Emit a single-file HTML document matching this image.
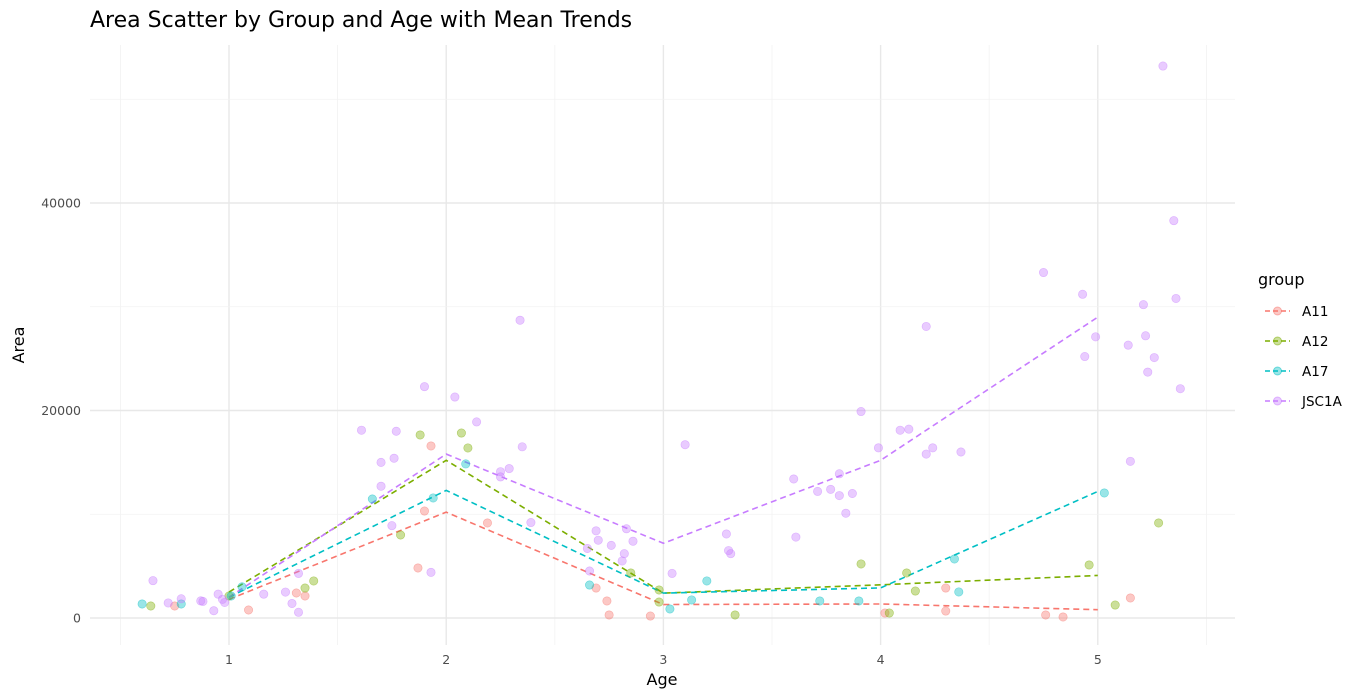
<!DOCTYPE html>
<html><head><meta charset="utf-8">
<style>
html,body{margin:0;padding:0;background:#fff;}
svg{display:block;font-family:"DejaVu Sans","Liberation Sans",sans-serif;}
</style></head>
<body>
<svg id="chart" width="1368" height="700">
<text x="90" y="27" font-size="22" fill="#000">Area Scatter by Group and Age with Mean Trends</text>
<g id="grid"></g>
<g id="lines"></g>
<g id="points"></g>
<g id="axes"></g>
<text x="662" y="685" font-size="16" text-anchor="middle" fill="#000">Age</text>
<text transform="translate(24,345) rotate(-90)" font-size="16" text-anchor="middle" fill="#000">Area</text>
<g id="legend">
<text x="1258" y="285" font-size="16" fill="#000">group</text>
</g>
</svg>
<script>
const groups = ["A11","A12","A17","JSC1A"];
const colors = ["#F8766D","#7CAE00","#00BFC4","#C77CFF"];
const xTicks = [1,2,3,4,5];
const yTicks = [0,20000,40000];
const meanAges = [1,2,3,4,5];
const meanA11 = [1800,10200,1300,1350,800];
const meanA12 = [2500,15200,2400,3200,4100];
const meanA17 = [2000,12300,2400,2900,12200];
const meanJSC1A = [2000,15800,7200,15200,29000];
const ageA11 = [0.75,1.09,1.31,1.35,1.87,1.90,1.93,2.19,2.69,2.74,2.75,2.94,4.02,4.30,4.30,4.76,4.84,5.15];
const areaA11 = [1157,771,2410,2120,4820,10310,16580,9160,2890,1640,290,190,480,2890,670,290,100,1930];
const ageA12 = [0.64,1.0,1.35,1.39,1.79,1.88,2.07,2.10,2.85,2.98,2.98,3.33,3.91,4.12,4.16,4.04,4.96,5.08,5.28];
const areaA12 = [1157,2120,2890,3570,8000,17640,17830,16390,4340,2700,1540,290,5210,4340,2600,480,5110,1250,9160];
const ageA17 = [0.60,0.78,1.06,1.01,1.66,1.94,2.09,2.66,3.03,3.13,3.20,3.72,3.90,4.34,4.36,5.03];
const areaA17 = [1350,1350,3000,2120,11470,11570,14850,3180,870,1740,3570,1640,1640,5690,2510,12050];
const ageJSC1A = [0.65,0.72,0.78,0.87,0.88,0.93,0.95,0.97,0.98,1.16,1.26,1.29,1.32,1.32,1.61,1.70,1.70,1.76,1.77,1.75,1.90,1.93,2.04,2.14,2.25,2.25,2.29,2.34,2.35,2.39,2.65,2.69,2.70,2.76,2.66,2.81,2.82,2.83,2.86,3.04,3.10,3.29,3.30,3.31,3.60,3.61,3.71,3.77,3.81,3.81,3.84,3.87,3.91,3.99,4.09,4.13,4.21,4.21,4.24,4.37,4.75,4.93,4.94,4.99,5.14,5.15,5.21,5.22,5.23,5.26,5.30,5.35,5.36,5.38];
const areaJSC1A = [3600,1450,1850,1650,1600,700,2300,1800,1500,2300,2500,1400,4300,550,18100,15000,12700,15400,18000,8900,22300,4400,21300,18900,14100,13600,14400,28700,16500,9200,6700,8400,7500,7000,4530,5500,6200,8600,7400,4300,16700,8100,6500,6200,13400,7800,12200,12400,11800,13900,10100,12000,19900,16400,18100,18200,15800,28100,16400,16000,33300,31200,25200,27100,26300,15100,30200,27200,23700,25100,53200,38300,30800,22100];

const NS="http://www.w3.org/2000/svg";
const L=90,R=1235,T=45,B=645;
const xs=v=>229+(v-1)*217.2;
const ys=v=>618-v*0.010375;
function mk(tag,attrs,parent){const e=document.createElementNS(NS,tag);for(const k in attrs)e.setAttribute(k,attrs[k]);parent.appendChild(e);return e;}
const grid=document.getElementById('grid');
for(let v=0.5;v<=5.51;v+=0.5){
  const major=Math.abs(v-Math.round(v))<0.01;
  const g=mk('line',{x1:xs(v),x2:xs(v),y1:T,y2:B,stroke:major?"#e8e8e8":"#f2f2f2","stroke-width":major?1.4:0.8},grid);
  
  
}
for(let v=0;v<=50000;v+=10000){
  const major=v%20000===0;
  const g=mk('line',{x1:L,x2:R,y1:ys(v),y2:ys(v),stroke:major?"#e8e8e8":"#f2f2f2","stroke-width":major?1.4:0.8},grid);
  
  
}
const axes=document.getElementById('axes');
xTicks.forEach(t=>{
  const e=mk('text',{x:xs(t),y:664,"font-size":12.5,fill:"#4d4d4d","text-anchor":"middle"},axes);
  e.textContent=t;
  
  
});
yTicks.forEach(t=>{
  const e=mk('text',{x:81,y:ys(t)+4.5,"font-size":12.5,fill:"#4d4d4d","text-anchor":"end"},axes);
  e.textContent=t;
  
  
});
const means=[meanA11,meanA12,meanA17,meanJSC1A];
const ages=[ageA11,ageA12,ageA17,ageJSC1A];
const areas=[areaA11,areaA12,areaA17,areaJSC1A];
const lines=document.getElementById('lines'),pts=document.getElementById('points');
groups.forEach((g,i)=>{
  ages[i].forEach((a,j)=>{
    const c=mk('circle',{cx:xs(a),cy:ys(areas[i][j]),r:4.2,fill:colors[i],"fill-opacity":0.4,stroke:colors[i],"stroke-opacity":0.5,"stroke-width":0.6},pts);
    
    
  });
});
groups.forEach((g,i)=>{
  const d=meanAges.map((a,j)=>(j?'L':'M')+xs(a)+','+ys(means[i][j])).join(' ');
  const p=mk('path',{d:d,fill:"none",stroke:colors[i],"stroke-width":1.6,"stroke-dasharray":"6,4"},lines);
  
  
});
const leg=document.getElementById('legend');
groups.forEach((g,i)=>{
  const y=311+i*30;
  const k=mk('g',{},leg);
  
  
  mk('line',{x1:1265,x2:1290,y1:y,y2:y,stroke:colors[i],"stroke-width":1.6,"stroke-dasharray":"5,3"},k);
  mk('circle',{cx:1277.5,cy:y,r:4,fill:colors[i],"fill-opacity":0.4,stroke:colors[i],"stroke-opacity":0.5},k);
  const t=mk('text',{x:1302,y:y+5,"font-size":13.5,fill:"#000"},k);
  t.textContent=g;
});
</script>
</body></html>
